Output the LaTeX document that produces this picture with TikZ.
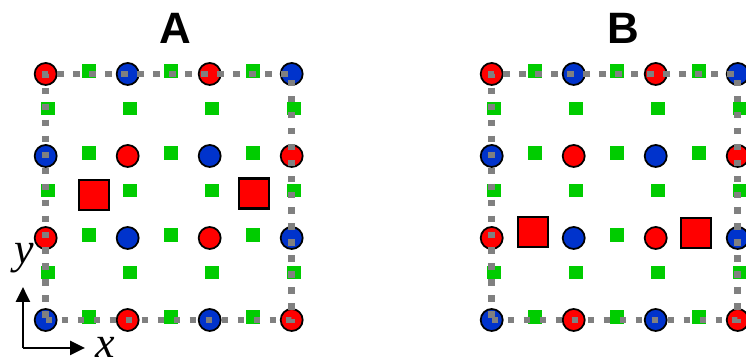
\documentclass[tikz,border=0pt]{standalone}
\usepackage{fontspec}
\setmainfont{Liberation Serif}
\setsansfont{Liberation Sans}
\usepackage{tikz}
\usetikzlibrary{arrows.meta}
\definecolor{site_red}{RGB}{255,0,0}
\definecolor{site_blue}{RGB}{0,51,204}
\definecolor{bond_green}{RGB}{0,204,0}
\definecolor{cell_grey}{RGB}{128,128,128}

\begin{document}
\begin{tikzpicture}[
	x=1.64cm, y=1.64cm,
	atom/.style = {circle, draw=black, line width=1pt, minimum size=0.44cm, inner sep=0pt},
	oxy/.style = {rectangle, fill=bond_green, minimum size=0.27cm, inner sep=0pt},
	dopant/.style = {rectangle, draw=black, line width=1.2pt, fill=site_red, minimum size=0.6cm, inner sep=0pt},
	cell/.style = {draw=cell_grey, line width=3.8pt, dash pattern=on 3.8pt off 5.3pt},
	panel/.style = {font=\sffamily\bfseries\fontsize{25}{25}\selectfont},
	axlabel/.style = {font=\itshape\fontsize{25}{25}\selectfont, inner sep=0pt},
	axis/.style = {line width=1.3pt, -{Triangle[length=8.5pt, width=8pt]}},
	]
	\useasboundingbox (-0.557,-0.524) rectangle (8.540,3.902);

	% left lattice
	\begin{scope}
		\node[panel] (titleA) at (1.58,3.557) {A};
		% green sites on the bonds
		\foreach \i in {0,1,2}
			\foreach \j in {0,...,3}
				\node[oxy] (A-h\i\j) at (\i+0.53,\j+0.037) {};
		\foreach \i in {0,...,3}
			\foreach \j in {0,1,2}
				\node[oxy] (A-v\i\j) at (\i+0.03,\j+0.578) {};
		% red / blue sites
		\foreach \i in {0,...,3}
			\foreach \j in {0,...,3} {
				\ifodd\numexpr\i+\j\relax \def\sitecol{site_red}\else \def\sitecol{site_blue}\fi
				\node[atom, fill=\sitecol] (A-\i\j) at (\i,\j) {};
			}
		% extra ions
		\node[dopant] (A-d1) at (0.589,1.524) {};
		\node[dopant] (A-d2) at (2.540,1.543) {};
		% unit cell
		\draw[cell] (A-00.center) -- (A-30.center) -- (A-33.center) -- (A-03.center) -- cycle;
	\end{scope}

	% right lattice
	\begin{scope}[xshift=5.439*1.64cm]
		\node[panel] (titleB) at (1.605,3.557) {B};
		\foreach \i/\j in {0/0,1/0,2/0,1/1,0/2,1/2,2/2,0/3,1/3,2/3}
			\node[oxy] (B-h\i\j) at (\i+0.53,\j+0.037) {};
		\foreach \i in {0,...,3}
			\foreach \j in {0,1,2}
				\node[oxy] (B-v\i\j) at (\i+0.03,\j+0.578) {};
		\foreach \i in {0,...,3}
			\foreach \j in {0,...,3} {
				\ifodd\numexpr\i+\j\relax \def\sitecol{site_red}\else \def\sitecol{site_blue}\fi
				\node[atom, fill=\sitecol] (B-\i\j) at (\i,\j) {};
			}
		\node[dopant] (B-d1) at (0.5,1.073) {};
		\node[dopant] (B-d2) at (2.488,1.065) {};
		\draw[cell] (B-00.center) -- (B-30.center) -- (B-33.center) -- (B-03.center) -- cycle;
	\end{scope}

	% axes
	\coordinate (orig) at (-0.277,-0.341);
	\coordinate (xtip) at (0.479,-0.341);
	\coordinate (ytip) at (-0.277,0.402);
	\draw[axis] (orig) -- (xtip);
	\draw[axis] (orig) -- (ytip);
	\node[axlabel] (xlab) at (0.723,-0.33) {x};
	\node[axlabel] (ylab) at (-0.265,0.756) {y};
\end{tikzpicture}
\end{document}
